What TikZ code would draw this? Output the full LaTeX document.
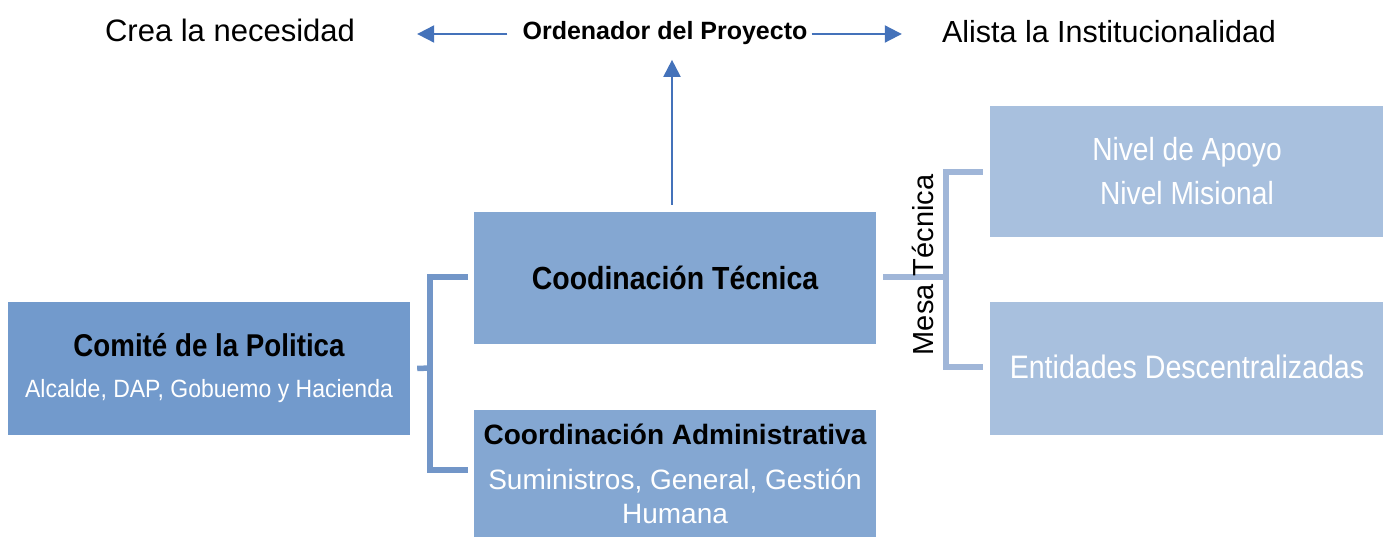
\documentclass[tikz,border=0pt]{standalone}
\usepackage{fontspec}
\setmainfont{Liberation Sans}
\newfontfamily\fN{Liberation Sans}[FakeStretch=0.88]
\newfontfamily\fT{Liberation Sans}[FakeStretch=0.89]
\newfontfamily\fS{Liberation Sans}[FakeStretch=0.92]
\usetikzlibrary{arrows.meta}
\definecolor{cDark}{RGB}{114,154,204}
\definecolor{cMid}{RGB}{132,167,210}
\definecolor{cLight}{RGB}{168,192,222}
\definecolor{lnDark}{RGB}{114,150,200}
\definecolor{lnLight}{RGB}{160,182,216}
\definecolor{arr}{RGB}{68,114,186}
\begin{document}
\begin{tikzpicture}[x=1pt,y=-1pt,
  boxs/.style={draw=none,inner sep=0pt,align=center,text=black},
  wbox/.style={boxs,text=white},
  lbl/.style={inner sep=0pt,text=black},
  brk/.style={line width=5.5pt,line join=miter},
  arw/.style={draw=arr,line width=2pt,-{Triangle[length=17pt,width=17pt]}}]
\useasboundingbox (0,0) rectangle (1383,537);
% top labels
\node[lbl,font=\fontsize{31}{31}\selectfont] (crea) at (230,30) {Crea la necesidad};
\node[lbl,font=\bfseries\fontsize{25}{25}\selectfont] (ord) at (665,33) {Ordenador del Proyecto};
\node[lbl,font=\fontsize{30.5}{30.5}\selectfont] (alista) at (1109,32) {Alista la Institucionalidad};
% boxes
\node[boxs,fill=cDark,minimum width=402pt,minimum height=133pt,font=\fontsize{25}{41}\selectfont] (comite) at (209,368.5)
  {{\fN\bfseries\fontsize{31.5}{41}\selectfont Comit\'e de la Politica}\\
   {\fS\color{white}Alcalde, DAP, Gobuemo y Hacienda}};
\node[boxs,fill=cMid,minimum width=402pt,minimum height=132pt,font=\fT\bfseries\fontsize{32}{32}\selectfont] (tecnica) at (675,278)
  {Coodinaci\'on T\'ecnica};
\node[boxs,fill=cMid,minimum width=402pt,minimum height=132pt,font=\fontsize{28}{34}\selectfont] (admin) at (675,476)
  {\raisebox{4pt}{\bfseries Coordinaci\'on Administrativa}\\[11pt]
   \raisebox{4pt}{\color{white}Suministros, General, Gesti\'on}\\
   \raisebox{4pt}{\color{white}Humana}};
\node[wbox,fill=cLight,minimum width=394pt,minimum height=131pt,font=\fN\fontsize{32}{44}\selectfont] (apoyo) at (1187,171.5)
  {Nivel de Apoyo\\Nivel Misional};
\node[wbox,fill=cLight,minimum width=394pt,minimum height=133pt,font=\fN\fontsize{32.5}{44}\selectfont] (entid) at (1187,368.5)
  {\raisebox{4pt}{Entidades Descentralizadas}};
% left bracket
\coordinate (lb) at (430,368);
\draw[brk,draw=lnDark] ([xshift=7pt]comite.east) -- (lb);
\draw[brk,draw=lnDark] ([xshift=-6pt]tecnica.west |- 0,277) -| (lb) |- ([xshift=-6pt]admin.west |- 0,470);
% right bracket
\coordinate (rb) at (946,277);
\draw[brk,draw=lnLight] ([xshift=7pt]tecnica.east |- 0,277) -- (rb);
\draw[brk,draw=lnLight] ([xshift=-7pt]apoyo.west |- 0,172) -| (rb) |- ([xshift=-7pt]entid.west |- 0,367);
\node[lbl,rotate=90,font=\fontsize{29}{29}\selectfont] (mesa) at (923,265) {Mesa T\'ecnica};
% arrows
\draw[arw,shorten <=7pt,shorten >=15pt] (tecnica.north -| 672,0) -- (ord.south -| 672,0);
\draw[arw,shorten <=15pt,shorten >=62pt] (ord.west |- 0,34) -- (crea.east |- 0,34);
\draw[arw,shorten <=4pt,shorten >=40pt] (ord.east |- 0,34) -- (alista.west |- 0,34);
\end{tikzpicture}
\end{document}
